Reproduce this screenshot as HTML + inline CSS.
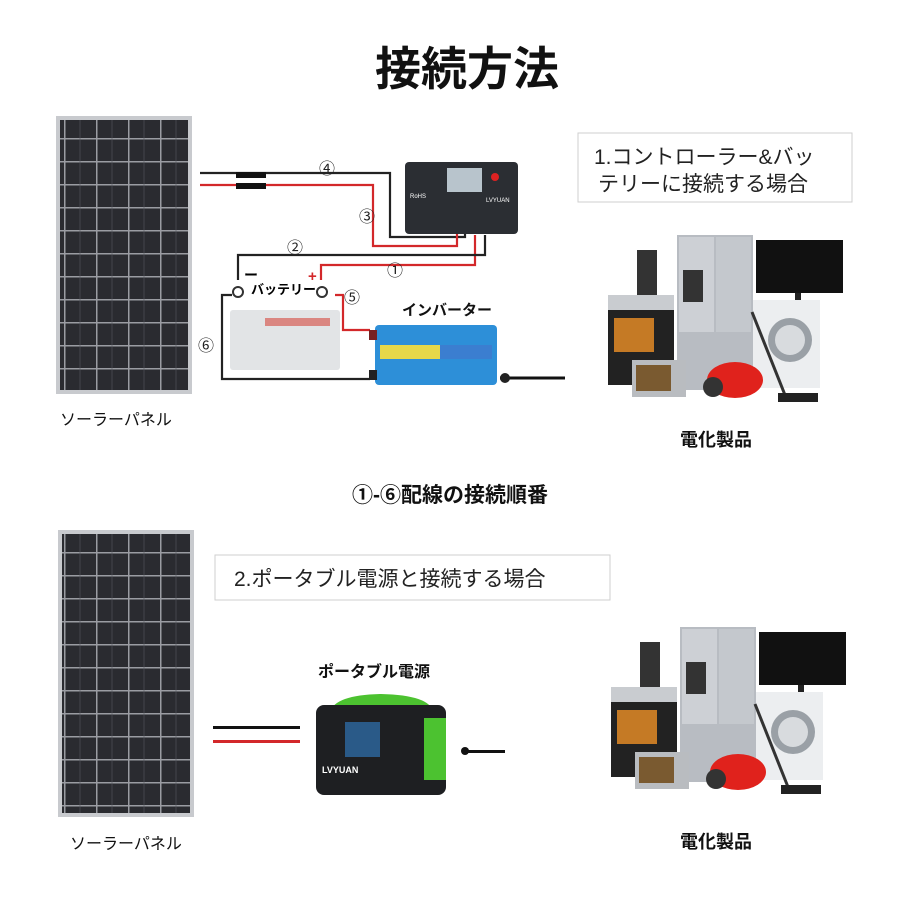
<!DOCTYPE html>
<html><head><meta charset="utf-8"><style>
body{margin:0;background:#fff}
svg text{font-family:"Liberation Sans","Noto Sans CJK JP",sans-serif}
</style></head><body>
<svg width="900" height="900" viewBox="0 0 900 900" xmlns="http://www.w3.org/2000/svg">
<defs>
<pattern id="cells" x="0" y="0" width="32" height="23" patternUnits="userSpaceOnUse">
<rect width="32" height="23" fill="#2a2b30"/>
<rect x="0" y="0" width="32" height="1.5" fill="#9a9ca2"/>
<rect x="0" y="0" width="1.5" height="23" fill="#9a9ca2"/>
<line x1="16" y1="0" x2="16" y2="23" stroke="#55575e" stroke-width="0.6"/>
</pattern>
<g id="appl">
<rect x="677" y="235" width="76" height="155" fill="#b8bcc2"/>
<rect x="679" y="237" width="35" height="95" fill="#cdd0d5"/>
<rect x="716" y="237" width="35" height="95" fill="#c4c8cd"/>
<rect x="683" y="270" width="20" height="32" fill="#333"/>
<rect x="756" y="240" width="87" height="53" fill="#111"/>
<rect x="795" y="293" width="6" height="8" fill="#222"/>
<rect x="753" y="300" width="67" height="88" fill="#eceef0"/>
<circle cx="790" cy="340" r="22" fill="#9aa0a6"/><circle cx="790" cy="340" r="15" fill="#d8dbde"/>
<rect x="637" y="250" width="20" height="46" fill="#333"/>
<rect x="608" y="295" width="66" height="90" fill="#222"/>
<rect x="608" y="295" width="66" height="15" fill="#c9ccd0"/>
<rect x="614" y="318" width="40" height="34" fill="#c57a25"/>
<rect x="632" y="360" width="54" height="37" fill="#b9bcc0"/>
<rect x="636" y="365" width="35" height="26" fill="#7a5a30"/>
<ellipse cx="735" cy="380" rx="28" ry="18" fill="#e0221c"/>
<circle cx="713" cy="387" r="10" fill="#333"/>
<line x1="752" y1="312" x2="785" y2="395" stroke="#333" stroke-width="3"/>
<rect x="778" y="393" width="40" height="9" fill="#222"/>
</g>
</defs>

<text x="467" y="85" font-size="46" font-weight="bold" text-anchor="middle" fill="#111">接続方法</text>

<rect x="56" y="116" width="136" height="278" fill="#c8cace"/>
<rect x="60" y="120" width="128" height="270" fill="url(#cells)"/>
<text x="60" y="425" font-size="16" fill="#111">ソーラーパネル</text>

<g fill="none" stroke-width="2.2">
<path d="M200 173 H390 V237 H465 V230" stroke="#222"/>
<path d="M200 185 H373 V246 H457 V232" stroke="#d3282a"/>
<path d="M475 235 V265 H321 V280" stroke="#d3282a"/>
<path d="M485 235 V255 H238 V280" stroke="#222"/>
<path d="M335 295 H343 V330 H370" stroke="#d3282a"/>
<path d="M232 295 H222 V379 H370" stroke="#222"/>
<path d="M500 378 H565" stroke="#111" stroke-width="3"/>
</g>
<rect x="236" y="172" width="30" height="6" fill="#111"/><rect x="236" y="183" width="30" height="6" fill="#111"/>
<circle cx="238" cy="292" r="5" fill="none" stroke="#333" stroke-width="2"/>
<circle cx="322" cy="292" r="5" fill="none" stroke="#333" stroke-width="2"/>
<text x="244" y="280" font-size="14" font-weight="bold">ー</text>
<text x="308" y="281" font-size="15" font-weight="bold" fill="#d3282a">+</text>
<text x="251" y="294" font-size="13" font-weight="bold">バッテリー</text>
<g font-size="16" fill="#222" text-anchor="middle">
<text x="327" y="174">④</text><text x="367" y="222">③</text><text x="295" y="253">②</text>
<text x="395" y="276">①</text><text x="352" y="303">⑤</text><text x="206" y="351">⑥</text>
</g>

<rect x="405" y="162" width="113" height="72" rx="4" fill="#2b2e33"/>
<rect x="447" y="168" width="35" height="24" fill="#b8c4cc"/>
<circle cx="495" cy="177" r="4" fill="#d22"/>
<text x="410" y="198" font-size="6" fill="#fff">RoHS</text>
<text x="486" y="202" font-size="6" fill="#fff">LVYUAN</text>

<rect x="230" y="310" width="110" height="60" rx="3" fill="#e2e4e6"/>
<rect x="265" y="318" width="65" height="8" fill="#d5483d" opacity=".6"/>
<text x="402" y="315" font-size="15" font-weight="bold" fill="#111">インバーター</text>
<rect x="375" y="325" width="122" height="60" rx="4" fill="#2d8fd8"/>
<rect x="380" y="345" width="112" height="14" fill="#e6d84a"/>
<rect x="440" y="345" width="52" height="14" fill="#3b7ed0"/>
<rect x="369" y="330" width="8" height="10" fill="#722"/><rect x="369" y="370" width="8" height="10" fill="#222"/>
<circle cx="505" cy="378" r="5" fill="#222"/>

<rect x="578" y="133" width="274" height="69" fill="#fff" stroke="#cfcfcf"/>
<text x="594" y="164" font-size="21" fill="#222">1.コントローラー&amp;バッ</text>
<text x="598" y="191" font-size="21" fill="#222">テリーに接続する場合</text>

<use href="#appl"/>
<text x="680" y="446" font-size="18" font-weight="bold" fill="#111">電化製品</text>

<text x="450" y="502" font-size="21" font-weight="bold" text-anchor="middle" fill="#111">①-⑥配線の接続順番</text>

<rect x="58" y="530" width="136" height="287" fill="#c8cace"/>
<rect x="62" y="534" width="128" height="279" fill="url(#cells)"/>
<text x="70" y="849" font-size="16" fill="#111">ソーラーパネル</text>

<rect x="215" y="555" width="395" height="45" fill="#fff" stroke="#cfcfcf"/>
<text x="234" y="586" font-size="21" fill="#222">2.ポータブル電源と接続する場合</text>

<text x="318" y="677" font-size="16" font-weight="bold" fill="#111">ポータブル電源</text>
<rect x="213" y="726" width="87" height="3" fill="#111"/>
<rect x="213" y="740" width="87" height="3" fill="#d3282a"/>
<path d="M330 712 Q335 695 380 694 Q430 695 433 712" fill="#4cc230"/>
<rect x="316" y="705" width="130" height="90" rx="8" fill="#1e1f22"/>
<rect x="424" y="718" width="22" height="62" fill="#4cc230"/>
<rect x="345" y="722" width="35" height="35" fill="#2a5a88"/>
<text x="322" y="773" font-size="9" fill="#fff" font-weight="bold">LVYUAN</text>
<rect x="462" y="750" width="43" height="3" fill="#111"/><circle cx="465" cy="751" r="4" fill="#111"/>

<use href="#appl" transform="translate(3,392)"/>
<text x="680" y="848" font-size="18" font-weight="bold" fill="#111">電化製品</text>
</svg>
</body></html>
